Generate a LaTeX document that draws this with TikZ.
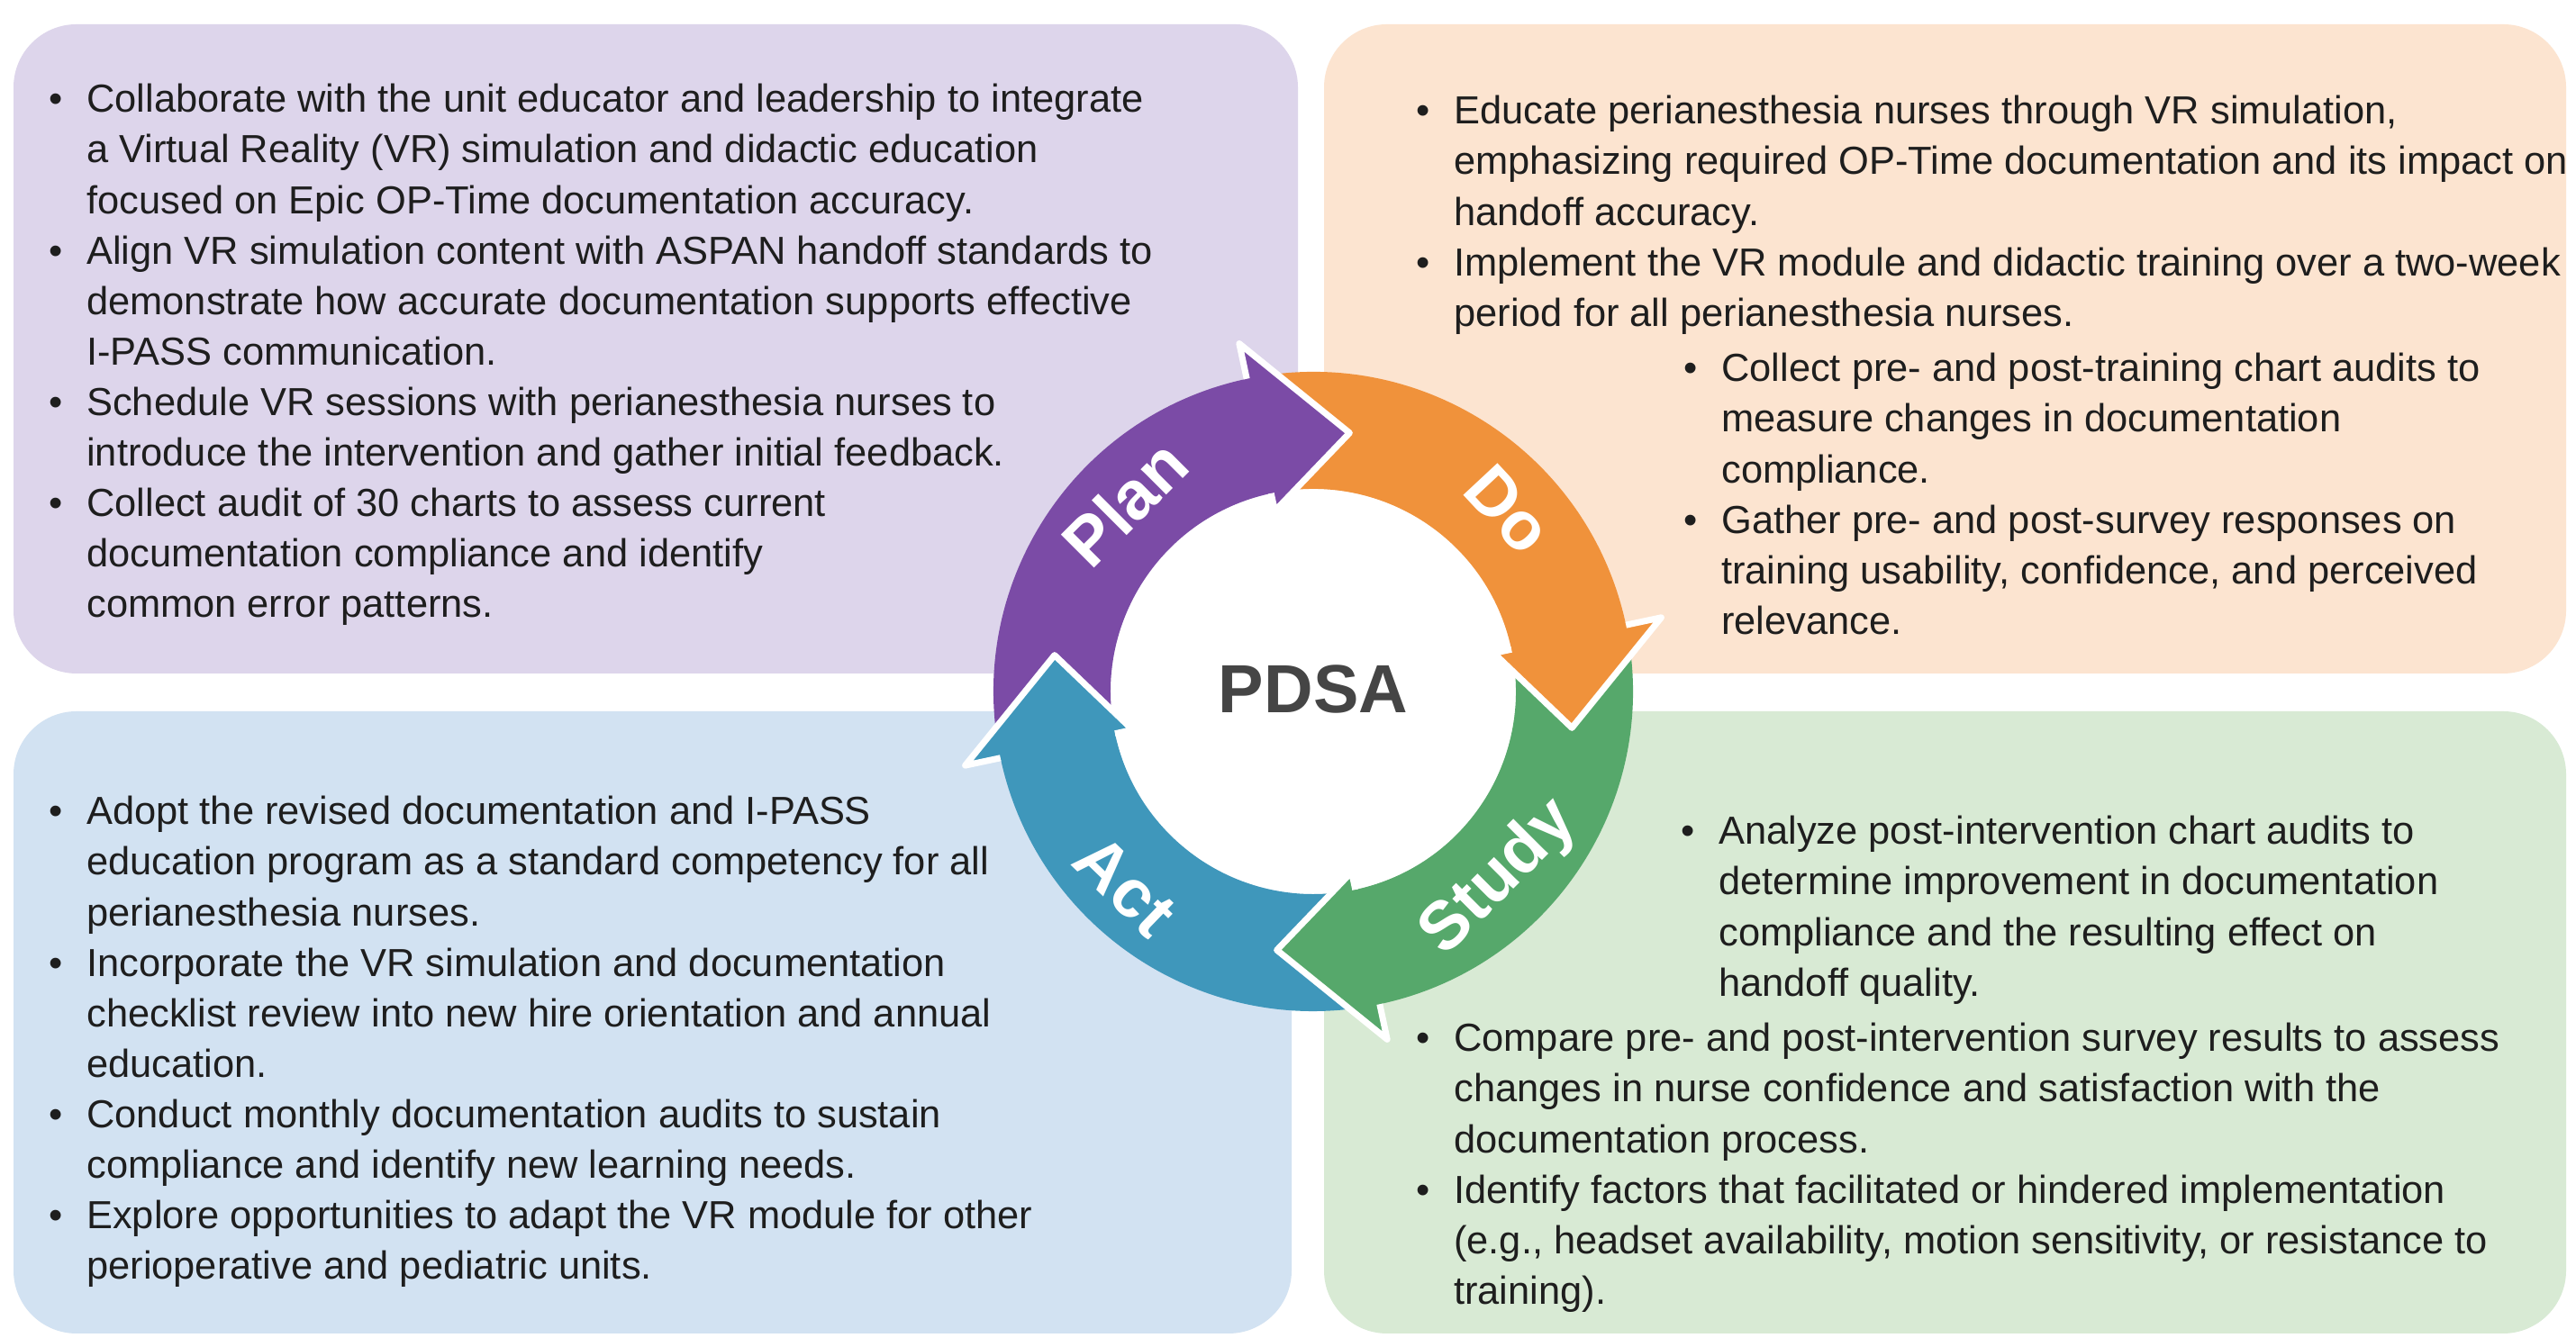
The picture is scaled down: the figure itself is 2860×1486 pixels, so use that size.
\documentclass[tikz,border=0pt]{standalone}
\usepackage{fontspec}
\setmainfont{Liberation Sans}
\usepackage{tikz}
\usetikzlibrary{calc}

\definecolor{planbg}{HTML}{DDD5EB}
\definecolor{dobg}{HTML}{FCE4D0}
\definecolor{actbg}{HTML}{D2E2F2}
\definecolor{studybg}{HTML}{D8EAD4}
\definecolor{plancol}{HTML}{7B4BA6}
\definecolor{docol}{HTML}{F0923B}
\definecolor{studycol}{HTML}{56A86B}
\definecolor{actcol}{HTML}{3F97BB}
\definecolor{pdsagray}{HTML}{454545}
\definecolor{bodygray}{HTML}{1E1E1E}

\newcommand{\bodyfont}{\fontsize{12.35}{15.93}\selectfont}

\tikzset{
  bgbox/.style={rounded corners=0.7cm},
  txtblock/.style={anchor=base west, inner sep=0pt, font=\bodyfont, text=bodygray},
  steplabel/.style={text=white, inner sep=0pt, font=\fontsize{21.5}{25}\selectfont\bfseries},
  headline/.style={draw=white, line width=2pt, line join=round}
}

% arc of the cycle: colour, tail angle, head angle
\newcommand{\cycleband}[3]{%
  \fill[#1] (#2-2:355) arc[start angle=#2-2, end angle=#3-1, radius=355]
    -- (#3-1:225) arc[start angle=#3-1, end angle=#2-2, radius=225] -- cycle;}
% arrow head: colour, head angle
\newcommand{\cyclehead}[2]{%
  \filldraw[headline, fill=#1] (#2:355) -- (#2:395) -- (#2-20:290) -- (#2:205) -- (#2:225);}

\begin{document}
\begin{tikzpicture}[x=0.01cm, y=0.01cm]
\useasboundingbox (0,0) rectangle (2860,1486);
\fill[white] (0,0) rectangle (2860,1486);

% quadrant boxes
\fill[bgbox, planbg] (15,738) rectangle (1441,1459);
\fill[bgbox, dobg] (1470,738) rectangle (2849,1459);
\fill[bgbox, actbg] (15,5) rectangle (1434,696);
\fill[bgbox, studybg] (1470,5) rectangle (2849,696);

% the PDSA cycle
\begin{scope}[shift={(1458,718)}]
\fill[white] (0,0) circle[radius=225];
\cycleband{plancol}{192}{102}
\cycleband{docol}{102}{12}
\cycleband{studycol}{12}{-78}
\cycleband{actcol}{-78}{-168}
\cyclehead{plancol}{102}
\cyclehead{docol}{12}
\cyclehead{studycol}{-78}
\cyclehead{actcol}{-168}
\node[steplabel, rotate=45] (plan) at (135:296) {Plan};
\node[steplabel, rotate=-47] (do) at (43:296) {Do};
\node[steplabel, rotate=45] (study) at (-45:293) {Study};
\node[steplabel, rotate=-44] (act) at (-134:300) {Act};
\node[text=pdsagray, font=\fontsize{21.5}{26}\selectfont\bfseries] (pdsa) at (0,3) {PDSA};
\end{scope}

% Plan
\node[txtblock] (plantxt) at (54,1361) {\begin{tabular}[t]{@{}l@{\hspace{7.5pt}}l@{}}
\textbullet & Collaborate with the unit educator and leadership to integrate\\
 & a Virtual Reality (VR) simulation and didactic education\\
 & focused on Epic OP-Time documentation accuracy.\\
\textbullet & Align VR simulation content with ASPAN handoff standards to\\
 & demonstrate how accurate documentation supports effective\\
 & I-PASS communication.\\
\textbullet & Schedule VR sessions with perianesthesia nurses to\\
 & introduce the intervention and gather initial feedback.\\
\textbullet & Collect audit of 30 charts to assess current\\
 & documentation compliance and identify\\
 & common error patterns.
\end{tabular}};

% Do
\node[txtblock] (dotxta) at (1572,1348) {\begin{tabular}[t]{@{}l@{\hspace{7.5pt}}l@{}}
\textbullet & Educate perianesthesia nurses through VR simulation,\\
 & emphasizing required OP-Time documentation and its impact on\\
 & handoff accuracy.\\
\textbullet & Implement the VR module and didactic training over a two-week\\
 & period for all perianesthesia nurses.
\end{tabular}};
\node[txtblock] (dotxtb) at (1869,1062) {\begin{tabular}[t]{@{}l@{\hspace{7.5pt}}l@{}}
\textbullet & Collect pre- and post-training chart audits to\\
 & measure changes in documentation\\
 & compliance.\\
\textbullet & Gather pre- and post-survey responses on\\
 & training usability, confidence, and perceived\\
 & relevance.
\end{tabular}};

% Act
\node[txtblock] (acttxt) at (54,570) {\begin{tabular}[t]{@{}l@{\hspace{7.5pt}}l@{}}
\textbullet & Adopt the revised documentation and I-PASS\\
 & education program as a standard competency for all\\
 & perianesthesia nurses.\\
\textbullet & Incorporate the VR simulation and documentation\\
 & checklist review into new hire orientation and annual\\
 & education.\\
\textbullet & Conduct monthly documentation audits to sustain\\
 & compliance and identify new learning needs.\\
\textbullet & Explore opportunities to adapt the VR module for other\\
 & perioperative and pediatric units.
\end{tabular}};

% Study
\node[txtblock] (studytxta) at (1866,548) {\begin{tabular}[t]{@{}l@{\hspace{7.5pt}}l@{}}
\textbullet & Analyze post-intervention chart audits to\\
 & determine improvement in documentation\\
 & compliance and the resulting effect on\\
 & handoff quality.
\end{tabular}};
\node[txtblock] (studytxtb) at (1572,318) {\begin{tabular}[t]{@{}l@{\hspace{7.5pt}}l@{}}
\textbullet & Compare pre- and post-intervention survey results to assess\\
 & changes in nurse confidence and satisfaction with the\\
 & documentation process.\\
\textbullet & Identify factors that facilitated or hindered implementation\\
 & (e.g., headset availability, motion sensitivity, or resistance to\\
 & training).
\end{tabular}};
\end{tikzpicture}
\end{document}
